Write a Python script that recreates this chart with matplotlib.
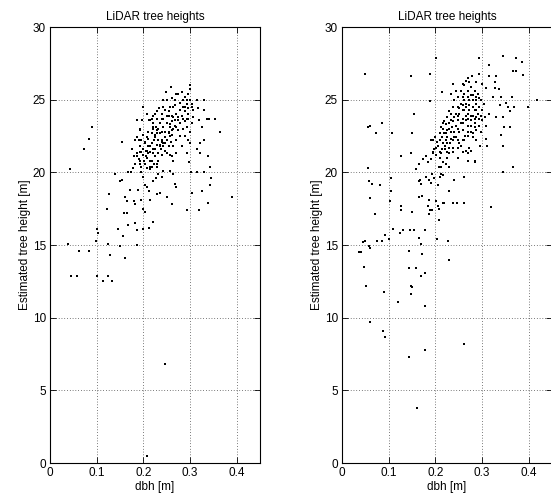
import matplotlib
matplotlib.use("Agg")
import matplotlib.pyplot as plt

plt.rcParams['font.family'] = ['Liberation Sans', 'DejaVu Sans']

# Field-measured diameter at breast height (m) vs. LiDAR-estimated height (m)
dbh_a = [
    0.207, 0.246, 0.039, 0.063, 0.084, 0.046, 0.058, 0.100, 0.125, 0.113, 0.133, 0.129,
    0.124, 0.099, 0.101, 0.102, 0.073, 0.084, 0.091, 0.043, 0.126, 0.123,
    0.145, 0.150, 0.156, 0.161, 0.158, 0.164, 0.168, 0.182, 0.186, 0.186, 0.200, 0.213, 0.221,
    0.139, 0.149, 0.154, 0.161, 0.164, 0.171, 0.179, 0.183, 0.189, 0.196, 0.199, 0.204,
    0.168, 0.173, 0.177, 0.182, 0.186, 0.190, 0.193, 0.196, 0.200, 0.204, 0.207, 0.213, 0.214,
    0.221, 0.227, 0.232, 0.239, 0.243, 0.236, 0.229, 0.250, 0.261, 0.257, 0.268, 0.269, 0.264,
    0.154, 0.175, 0.182, 0.191, 0.197, 0.186, 0.193, 0.199, 0.200, 0.204, 0.207, 0.211, 0.213,
    0.218, 0.221, 0.218, 0.221, 0.225, 0.229, 0.225, 0.229, 0.232, 0.236, 0.230, 0.234, 0.243,
    0.239, 0.243, 0.246, 0.239, 0.236, 0.243, 0.232, 0.241, 0.250, 0.250, 0.251, 0.254, 0.250,
    0.249, 0.259, 0.261, 0.264, 0.261, 0.268, 0.257, 0.264, 0.271, 0.279, 0.275, 0.279, 0.268,
    0.275, 0.282, 0.284, 0.289, 0.293, 0.296, 0.300, 0.301, 0.300, 0.304, 0.307, 0.304, 0.296,
    0.293, 0.286, 0.284, 0.289, 0.296, 0.300, 0.293, 0.282, 0.271, 0.279, 0.314, 0.318, 0.329,
    0.330, 0.336, 0.319, 0.325, 0.330, 0.321, 0.314, 0.321, 0.339, 0.343, 0.346, 0.343, 0.339,
    0.354, 0.364, 0.341, 0.330, 0.316, 0.303, 0.297, 0.305, 0.326, 0.294, 0.319, 0.391,
    0.214, 0.218, 0.223, 0.229, 0.214, 0.207, 0.232, 0.193, 0.179, 0.236, 0.220, 0.223, 0.232,
    0.237, 0.246, 0.254, 0.254, 0.257, 0.262, 0.259, 0.239, 0.227, 0.220, 0.207, 0.243, 0.270,
    0.289, 0.279, 0.289, 0.296, 0.307, 0.275, 0.264, 0.271, 0.261, 0.214, 0.211, 0.206, 0.201,
    0.196, 0.205,
    0.214, 0.221, 0.229, 0.236, 0.225, 0.232, 0.239, 0.218, 0.211, 0.207, 0.214, 0.221, 0.229,
    0.236, 0.243, 0.246, 0.254, 0.257, 0.261, 0.264, 0.271, 0.279, 0.286, 0.293, 0.282, 0.275,
    0.268, 0.261, 0.250, 0.243, 0.239, 0.246, 0.257, 0.268, 0.254, 0.229, 0.225, 0.218, 0.211,
    0.204, 0.200, 0.207, 0.218, 0.225, 0.229, 0.214, 0.204, 0.196, 0.193, 0.186, 0.193, 0.196,
    0.200, 0.193, 0.186, 0.246, 0.257, 0.264, 0.293, 0.300, 0.304, 0.296, 0.289,
]
height_a = [
    0.5, 6.8, 15.1, 14.6, 14.6, 12.9, 12.9, 12.9, 12.9, 12.5, 12.5, 14.3,
    15.1, 15.3, 16.1, 15.8, 21.6, 22.3, 23.1, 20.2, 18.5, 17.5,
    16.1, 14.9, 15.6, 14.1, 17.2, 17.2, 16.4, 16.5, 16.0, 15.0, 16.1, 16.2, 16.6,
    19.9, 19.4, 19.5, 18.3, 18.0, 18.8, 18.0, 17.8, 18.8, 18.1, 17.5, 17.3,
    20.0, 20.0, 20.3, 20.6, 21.1, 20.9, 21.4, 20.0, 19.7, 19.1, 19.0, 18.7, 18.1,
    19.4, 19.6, 19.9, 19.7, 20.1, 18.6, 18.5, 18.3, 17.8, 20.1, 19.2, 19.0, 19.9,
    22.1, 21.6, 22.2, 22.2, 23.6, 23.6, 23.0, 24.5, 21.6, 22.0, 22.4, 22.8, 23.6,
    23.7, 23.4, 22.0, 21.3, 21.6, 21.9, 22.6, 22.7, 23.0, 23.4, 24.2, 24.4, 24.5,
    23.7, 23.1, 22.8, 22.2, 21.9, 21.8, 21.3, 21.2, 21.3, 22.2, 23.9, 24.2, 25.0,
    25.5, 25.9, 25.1, 24.5, 23.9, 23.6, 23.3, 23.0, 23.1, 23.4, 23.8, 24.3, 25.0,
    25.4, 25.5, 25.0, 24.5, 25.0, 25.4, 26.0, 25.7, 25.0, 24.5, 24.3, 24.7, 24.4,
    23.7, 23.7, 23.0, 22.5, 22.2, 22.0, 21.3, 21.8, 22.2, 22.5, 25.0, 24.4, 25.0,
    24.3, 23.7, 23.6, 23.1, 22.2, 22.0, 21.6, 21.3, 21.1, 20.4, 19.6, 19.1, 17.9,
    23.7, 22.8, 23.7, 20.0, 20.0, 20.0, 20.7, 18.6, 18.7, 17.4, 17.4, 18.3,
    20.8, 20.4, 20.6, 20.4, 20.2, 20.3, 20.8, 20.6, 21.1, 22.7, 23.0, 22.2, 22.2,
    21.6, 22.0, 21.8, 22.7, 22.5, 22.6, 22.1, 22.8, 23.1, 23.9, 24.0, 25.0, 25.4,
    25.2, 24.8, 24.2, 24.0, 23.8, 22.9, 21.8, 21.3, 21.1, 21.8, 21.3, 21.1, 20.8,
    21.4, 21.5,
    23.6, 23.1, 22.9, 22.7, 22.4, 22.2, 22.1, 22.0, 21.8, 21.5, 21.4, 21.6, 21.9,
    21.8, 22.0, 22.4, 22.8, 23.1, 23.5, 23.8, 24.0, 24.3, 24.5, 24.7, 23.9, 23.6,
    23.2, 22.9, 23.4, 23.7, 24.0, 24.3, 24.5, 24.6, 23.9, 23.7, 24.0, 22.7, 22.3,
    22.1, 21.2, 21.0, 20.8, 21.1, 20.6, 20.4, 20.6, 20.4, 20.8, 21.3, 21.8, 22.2,
    22.6, 22.9, 22.4, 21.5, 21.2, 20.8, 23.1, 22.8, 23.4, 23.7, 23.5,
]

dbh_b = [
    0.049, 0.055, 0.059, 0.073, 0.086, 0.107, 0.055, 0.057, 0.064, 0.059, 0.071, 0.082,
    0.104, 0.105, 0.103, 0.037, 0.041, 0.046, 0.049, 0.057, 0.059, 0.048, 0.051, 0.089,
    0.059, 0.087, 0.092, 0.076, 0.085, 0.093, 0.100, 0.109, 0.124, 0.130, 0.126, 0.126,
    0.151, 0.126, 0.147, 0.148, 0.155, 0.151, 0.189, 0.189, 0.202, 0.143, 0.144, 0.147,
    0.151, 0.147, 0.121, 0.159, 0.143, 0.178, 0.178, 0.178, 0.170, 0.165, 0.169, 0.171,
    0.154, 0.146, 0.161, 0.177, 0.203, 0.207, 0.227, 0.229, 0.262, 0.320, 0.399, 0.418,
    0.166, 0.171, 0.186, 0.184, 0.186, 0.193, 0.189, 0.201, 0.206, 0.207, 0.216, 0.219,
    0.237, 0.246, 0.262, 0.230, 0.241,
    0.164, 0.168, 0.169, 0.181, 0.187, 0.191, 0.193, 0.198, 0.206, 0.209, 0.213, 0.216,
    0.212, 0.207, 0.159, 0.166, 0.174, 0.180, 0.184, 0.191, 0.194, 0.198, 0.201, 0.209,
    0.216, 0.223, 0.230, 0.224, 0.230, 0.237, 0.248, 0.262, 0.269, 0.271, 0.276, 0.286,
    0.286, 0.273, 0.280, 0.296,
    0.191, 0.194, 0.200, 0.204, 0.205, 0.209, 0.212, 0.216, 0.214, 0.219, 0.223, 0.226,
    0.219, 0.224, 0.229, 0.234, 0.230, 0.236, 0.241, 0.244, 0.248, 0.237, 0.231, 0.244,
    0.248, 0.251, 0.248, 0.255, 0.259, 0.255, 0.259, 0.266, 0.271, 0.279, 0.262, 0.269,
    0.276, 0.280, 0.287, 0.294, 0.287, 0.294, 0.301, 0.298, 0.287, 0.280, 0.273, 0.266,
    0.262, 0.269, 0.276, 0.284, 0.266, 0.259, 0.269, 0.276, 0.284, 0.287, 0.280, 0.270,
    0.263, 0.259, 0.255, 0.266, 0.287, 0.307, 0.316, 0.309, 0.311, 0.323, 0.327, 0.316,
    0.314, 0.327, 0.330, 0.336, 0.341, 0.330, 0.339, 0.351, 0.355, 0.359, 0.346, 0.348,
    0.341, 0.344, 0.346, 0.359, 0.364, 0.369, 0.366, 0.372, 0.372, 0.386, 0.387, 0.344,
    0.294, 0.293, 0.299, 0.309, 0.367, 0.237, 0.244, 0.214, 0.248, 0.241, 0.237, 0.226,
    0.234, 0.259, 0.251, 0.248, 0.259, 0.230, 0.221, 0.214, 0.212,
    0.216, 0.223, 0.230, 0.237, 0.241, 0.244, 0.251, 0.259, 0.262, 0.269, 0.276, 0.284,
    0.291, 0.298, 0.305, 0.291, 0.284, 0.273, 0.266, 0.259, 0.255, 0.248, 0.241, 0.234,
    0.226, 0.221, 0.209, 0.201, 0.194, 0.226, 0.237, 0.251, 0.262, 0.269, 0.276, 0.284,
    0.294, 0.301, 0.309, 0.298, 0.269, 0.276, 0.280, 0.287, 0.294, 0.280, 0.287, 0.273,
    0.266, 0.259, 0.248, 0.234, 0.223, 0.216, 0.209, 0.234, 0.262, 0.287, 0.273,
]
height_b = [
    26.8, 23.1, 23.2, 22.7, 23.4, 22.7, 20.3, 19.4, 19.2, 18.2, 17.1, 19.1,
    19.6, 18.7, 18.0, 14.5, 14.5, 15.2, 15.3, 14.9, 14.8, 13.5, 12.2, 11.8,
    9.7, 9.1, 8.7, 15.3, 15.3, 15.7, 15.4, 16.1, 15.8, 16.0, 17.7, 17.4,
    17.3, 21.1, 21.3, 26.6, 24.0, 22.7, 26.8, 24.9, 27.9, 14.6, 13.4, 12.2,
    12.1, 11.6, 11.1, 13.4, 7.3, 7.8, 10.8, 13.1, 12.9, 15.5, 15.1, 14.4,
    16.0, 16.0, 3.8, 16.0, 15.4, 16.7, 15.3, 14.0, 8.2, 17.6, 24.5, 25.0,
    18.3, 18.4, 18.1, 17.7, 17.1, 17.4, 17.4, 18.0, 17.7, 17.5, 17.9, 17.9,
    17.9, 17.9, 17.9, 18.7, 19.5,
    19.4, 19.5, 19.2, 19.7, 19.5, 19.3, 19.9, 19.6, 19.1, 19.7, 19.9, 19.8,
    20.4, 20.4, 20.2, 20.6, 20.9, 21.1, 20.7, 20.9, 21.4, 21.6, 21.2, 21.0,
    20.7, 20.6, 20.4, 21.0, 21.3, 21.4, 21.0, 19.7, 20.8, 21.3, 21.5, 20.8,
    20.7, 21.7, 22.4, 21.8,
    22.2, 22.2, 22.4, 22.1, 21.8, 22.7, 23.1, 23.4, 22.4, 22.7, 22.2, 22.4,
    23.5, 23.8, 24.2, 24.0, 23.4, 23.1, 22.8, 22.4, 22.2, 22.2, 22.0, 23.2,
    23.6, 24.0, 24.5, 24.7, 25.2, 25.6, 26.1, 26.3, 26.5, 26.6, 25.4, 25.2,
    25.3, 25.0, 25.2, 25.1, 24.7, 24.5, 24.3, 23.9, 24.3, 24.5, 24.6, 24.7,
    24.3, 24.0, 23.9, 23.7, 23.6, 23.4, 23.2, 23.2, 23.4, 22.9, 22.7, 22.8,
    22.5, 22.2, 21.8, 21.5, 22.2, 23.8, 24.0, 22.3, 21.8, 25.2, 25.8, 26.6,
    27.4, 26.2, 26.6, 25.7, 25.2, 23.8, 24.6, 24.8, 24.5, 24.2, 23.8, 23.1,
    22.6, 21.8, 20.0, 23.1, 25.2, 24.5, 27.0, 27.9, 27.0, 27.6, 26.7, 28.0,
    27.9, 26.8, 26.1, 25.8, 20.4, 26.1, 25.6, 25.5, 25.2, 25.0, 24.5, 22.9,
    22.8, 22.9, 22.8, 21.7, 21.4, 21.7, 21.8, 21.6, 21.3,
    22.0, 22.7, 23.0, 23.5, 23.8, 24.0, 24.4, 24.6, 25.0, 25.6, 25.9, 25.6,
    25.4, 25.0, 24.7, 24.0, 24.3, 24.3, 23.9, 23.7, 23.4, 23.0, 22.4, 22.3,
    22.0, 21.6, 21.4, 21.7, 21.3, 21.4, 21.7, 22.0, 22.2, 22.5, 22.8, 23.1,
    23.2, 23.6, 23.2, 22.8, 23.7, 23.6, 23.9, 23.8, 23.7, 25.3, 25.0, 25.0,
    24.5, 24.3, 23.9, 23.6, 23.3, 23.0, 22.2, 25.4, 26.0, 26.2, 26.2,
]

x_ticks = [0, 0.1, 0.2, 0.3, 0.4]
x_tick_labels = ["0", "0.1", "0.2", "0.3", "0.4"]
y_ticks = [0, 5, 10, 15, 20, 25, 30]

W, H = 551, 497
fig = plt.figure(figsize=(W / 100, H / 100), dpi=100)

panels = [
    (dbh_a, height_a, 50),
    (dbh_b, height_b, 342),
]

for xs, ys, left_px in panels:
    ax = fig.add_axes([left_px / W, (H - 463) / H, 210 / W, 436 / H])
    ax.plot(xs, ys, linestyle='none', marker='s', markersize=1.9,
            color='black', markeredgewidth=0)
    ax.set_xlim(0, 0.45)
    ax.set_ylim(0, 30)
    ax.set_xticks(x_ticks)
    ax.set_xticklabels(x_tick_labels)
    ax.set_yticks(y_ticks)
    ax.grid(True, color='black', linestyle=(0, (1, 3)), linewidth=0.5)
    ax.tick_params(direction='in', top=True, right=True, length=4,
                   width=0.6, labelsize=8.5, pad=3, colors='black')
    for sp in ax.spines.values():
        sp.set_linewidth(0.8)
    ax.set_title("LiDAR tree heights", fontsize=8.5, pad=5)
    ax.set_xlabel("dbh [m]", fontsize=8.5, labelpad=1)
    ax.set_ylabel("Estimated tree height [m]", fontsize=8.5, labelpad=1)

fig.savefig("out.png", dpi=100)
